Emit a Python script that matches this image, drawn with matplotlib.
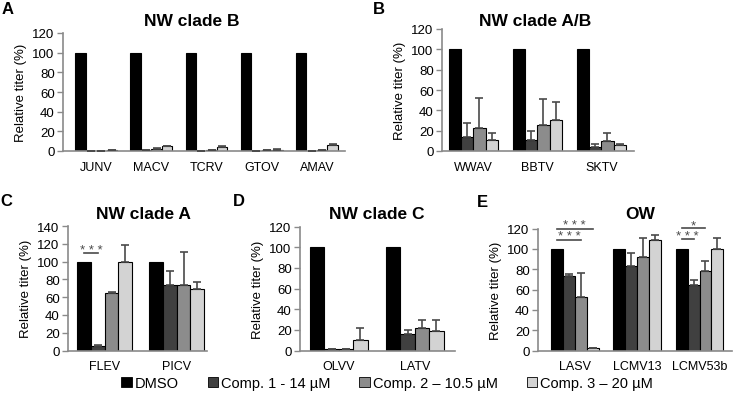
import matplotlib
matplotlib.use("Agg")
from matplotlib import pyplot as plt
from matplotlib.patches import Patch

plt.rcParams["font.family"] = ["Liberation Sans", "DejaVu Sans"]

W, H = 733, 402

SERIES = ["DMSO", "Comp. 1 - 14 µM", "Comp. 2 – 10.5 µM", "Comp. 3 – 20 µM"]
COLORS = ["#000000", "#404040", "#8c8c8c", "#d3d3d3"]

# panel A - NW clade B
a_names = ["JUNV", "MACV", "TCRV", "GTOV", "AMAV"]
a_dmso = [100, 100, 100, 100, 100]
a_c1 = [0.2, 1.3, 0.2, 0.3, 0.3]
a_c2 = [0.2, 2.0, 0.6, 0.9, 0.7]
a_c3 = [1.0, 4.6, 3.9, 1.3, 6.2]
a_e1 = [0, 0.2, 0, 0, 0]
a_e2 = [0, 0.6, 0.2, 0.2, 0.2]
a_e3 = [0.3, 0.6, 0.7, 0.3, 1.3]

# panel B - NW clade A/B
b_names = ["WWAV", "BBTV", "SKTV"]
b_dmso = [100, 100, 100]
b_c1 = [13.4, 10.8, 3.9]
b_c2 = [22.6, 25.2, 9.5]
b_c3 = [10.5, 30.5, 6.2]
b_e1 = [13.8, 8.5, 3.0]
b_e2 = [29.2, 26.3, 8.2]
b_e3 = [7.2, 17.4, 0.4]

# panel C - NW clade A
c_names = ["FLEV", "PICV"]
c_dmso = [100, 100]
c_c1 = [4.9, 73.9]
c_c2 = [64.2, 73.5]
c_c3 = [99.3, 68.7]
c_e1 = [1.1, 15.7]
c_e2 = [1.1, 36.9]
c_e3 = [19.4, 8.5]

# panel D - NW clade C
d_names = ["OLVV", "LATV"]
d_dmso = [100, 100]
d_c1 = [1.6, 15.8]
d_c2 = [1.0, 21.9]
d_c3 = [10.3, 18.4]
d_e1 = [0, 4.5]
d_e2 = [0, 7.8]
d_e3 = [11.0, 11.3]

# panel E - OW
e_names = ["LASV", "LCMV13", "LCMV53b"]
e_dmso = [100, 100, 100]
e_c1 = [73.4, 83.6, 64.3]
e_c2 = [52.8, 91.8, 78.0]
e_c3 = [2.3, 108.9, 100.0]
e_e1 = [1.6, 12.4, 5.5]
e_e2 = [23.9, 18.7, 10.5]
e_e3 = [0, 4.9, 10.8]

# significance brackets: (group, bar from, bar to, height, stars)
c_sig = [(0, 0, 1, 109.7, "* * *")]
e_sig = [(0, 0, 3, 120, "* * *"), (0, 0, 2, 109, "* * *"),
         (2, 0, 2, 120.3, "*"), (2, 0, 1, 109.5, "* * *")]

PANELS = [
    # letter, title, names, values, errors, box px (x0, y0, x1, y1), xlim, ymax, sig, title pos, letter pos
    ("A", "NW clade B", a_names, [a_dmso, a_c1, a_c2, a_c3], [None, a_e1, a_e2, a_e3],
     (63, 34, 345, 152), (-0.6, 4.51), 120, [], (192, 21), (8, 9)),
    ("B", "NW clade A/B", b_names, [b_dmso, b_c1, b_c2, b_c3], [None, b_e1, b_e2, b_e3],
     (442, 30, 634, 152), (-0.49, 2.51), 120, [], (535, 21), (379, 9)),
    ("C", "NW clade A", c_names, [c_dmso, c_c1, c_c2, c_c3], [None, c_e1, c_e2, c_e3],
     (68, 227, 207, 351.5), (-0.51, 1.42), 140, c_sig, (143, 215), (6, 202)),
    ("D", "NW clade C", d_names, [d_dmso, d_c1, d_c2, d_c3], [None, d_e1, d_e2, d_e3],
     (300, 227.5, 455, 351.5), (-0.51, 1.53), 120, [], (377, 215), (239, 202)),
    ("E", "OW", e_names, [e_dmso, e_c1, e_c2, e_c3], [None, e_e1, e_e2, e_e3],
     (538, 229.5, 732, 351.5), (-0.59, 2.52), 120, e_sig, (640, 215), (482, 203)),
]

BAR_W = 0.19
AXIS_GRAY = "#8a8a8a"

fig = plt.figure(figsize=(W / 100, H / 100), dpi=100)

for letter, title, names, values, errors, box, xlim, ymax, sig, tpos, lpos in PANELS:
    x0, y0, x1, y1 = box
    ax = fig.add_axes([x0 / W, 1 - y1 / H, (x1 - x0) / W, (y1 - y0) / H])
    xs = list(range(len(names)))
    for k, (vals, errs, color) in enumerate(zip(values, errors, COLORS)):
        pos = [x + (k - 1.5) * BAR_W for x in xs]
        ax.bar(pos, vals, width=BAR_W, color=color, edgecolor="black",
               linewidth=0.8, zorder=2)
        if errs is not None:
            ax.errorbar(pos, vals, yerr=[[0] * len(vals), errs], fmt="none",
                        ecolor="#4a4a4a", elinewidth=1.2, capsize=3,
                        capthick=1.2, zorder=3)
    for g, i, j, h, stars in sig:
        xa = g + (i - 1.5) * BAR_W
        xb = g + (j - 1.5) * BAR_W
        ax.plot([xa, xb], [h, h], color="#4a4a4a", lw=1.2, clip_on=False, zorder=4)
        ax.annotate(stars, ((xa + xb) / 2, h), xytext=(0, -2),
                    textcoords="offset points", ha="center", va="bottom",
                    fontsize=9.5, color="#4a4a4a", annotation_clip=False)

    ax.set_xlim(*xlim)
    ax.set_ylim(0, ymax)
    ax.set_yticks(range(0, ymax + 1, 20))
    ax.set_xticks(xs)
    ax.set_xticklabels(names)
    ax.tick_params(axis="x", length=0, pad=7, labelsize=9)
    ax.tick_params(axis="y", length=4, width=1, color=AXIS_GRAY, pad=2,
                   labelsize=9.5)
    for side in ["top", "right"]:
        ax.spines[side].set_visible(False)
    for side in ["left", "bottom"]:
        ax.spines[side].set_color(AXIS_GRAY)
        ax.spines[side].set_linewidth(1.2)
    ax.set_ylabel("Relative titer (%)", fontsize=9.5)
    ax.yaxis.set_label_coords(x0 / W - 0.049, 1 - (y0 + y1) / 2 / H,
                              transform=fig.transFigure)

    fig.text(tpos[0] / W, 1 - tpos[1] / H, title, ha="center", va="center",
             fontsize=12.5, fontweight="bold")
    fig.text(lpos[0] / W, 1 - lpos[1] / H, letter, ha="center", va="center",
             fontsize=12, fontweight="bold")

handles = [Patch(facecolor=c, edgecolor="black", linewidth=0.6) for c in COLORS]
fig.legend(handles, SERIES, loc="center", bbox_to_anchor=(387 / W, 1 - 384 / H),
           ncol=4, frameon=False, fontsize=10.5, handlelength=0.7,
           handleheight=0.7, handletextpad=0.2, columnspacing=2.0)

fig.savefig("out.png", dpi=100)
